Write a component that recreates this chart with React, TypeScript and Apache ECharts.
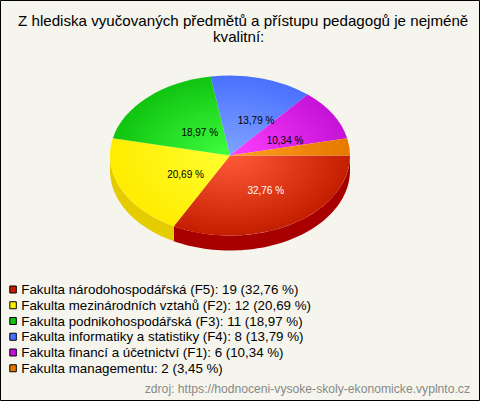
import React, { useEffect, useRef } from "react";
import * as echarts from "echarts";

const TITLE_LINES = ["Z hlediska vyučovaných předmětů a přístupu pedagogů je nejméně", "kvalitní:"];
const SOURCE = "zdroj: https://hodnoceni-vysoke-skoly-ekonomicke.vyplnto.cz";
const NAMES = [
  "Fakulta národohospodářská (F5)",
  "Fakulta mezinárodních vztahů (F2)",
  "Fakulta podnikohospodářská (F3)",
  "Fakulta informatiky a statistiky (F4)",
  "Fakulta financí a účetnictví (F1)",
  "Fakulta managementu",
];
const VALUES = [19, 12, 11, 8, 6, 2];
const PERCENTS = ["32,76 %", "20,69 %", "18,97 %", "13,79 %", "10,34 %", "3,45 %"];

// Styling tables
const SWATCH = ["#c41e00", "#ffec00", "#10c410", "#4a70ff", "#c412d8", "#e67800"];
const INNER = ["#ff5a38", "#ffff30", "#40ff40", "#80a4ff", "#ff40ff", "#ffa020"];
const WALL = ["#a80000", "#e4cc00", "#0a9a0a", "#3050c0", "#9a10a8", "#b86000"];
const LABEL_COLOR = ["#ffffff", "#000000", "#000000", "#000000", "#000000", "#000000"];
const LABEL_NUDGE = [[4.8, 0.3], [10, 2.5], [11, 6.4], [10, 3.2], [3.6, 5.2], null];

const CX = 230;
const CY = 155.5;
const RX = 120;
const RY = 80;
const DEPTH = 15;
const FONT = "'Liberation Sans', Arial, sans-serif";
const TOTAL = VALUES.reduce((a, b) => a + b, 0);

function wallPoints(a0: number, a1: number) {
  const from = Math.max(a0, 0);
  const to = Math.min(a1, Math.PI);
  if (to <= from) return null;
  const top: number[][] = [];
  const bottom: number[][] = [];
  const steps = 60;
  for (let i = 0; i <= steps; i++) {
    const t = from + ((to - from) * i) / steps;
    const x = RX * Math.cos(t);
    const y = RY * Math.sin(t);
    top.push([x, y]);
    bottom.unshift([x, y + DEPTH]);
  }
  return top.concat(bottom);
}

function sliceSeries(index: number) {
  const before = VALUES.slice(0, index).reduce((a, b) => a + b, 0);
  return {
    type: "custom",
    coordinateSystem: "none",
    name: `${NAMES[index]}: ${VALUES[index]} (${PERCENTS[index]})`,
    itemStyle: { color: SWATCH[index] },
    silent: true,
    data: [VALUES[index]],
    renderItem: (_p: unknown, api: any) => {
      const a0 = (before / TOTAL) * Math.PI * 2;
      const a1 = ((before + api.value(0)) / TOTAL) * Math.PI * 2;
      const children: any[] = [];
      const pts = wallPoints(a0, a1);
      if (pts) {
        children.push({
          type: "polygon",
          x: CX,
          y: CY,
          shape: { points: pts },
          style: { fill: WALL[index] },
        });
      }
      children.push({
        type: "group",
        x: CX,
        y: CY,
        scaleY: RY / RX,
        children: [
          {
            type: "sector",
            shape: { cx: 0, cy: 0, r0: 0, r: RX, startAngle: a0, endAngle: a1, clockwise: true },
            style: {
              fill: new echarts.graphic.RadialGradient(
                0,
                0,
                RX,
                [
                  { offset: 0, color: INNER[index] },
                  { offset: 1, color: SWATCH[index] },
                ],
                true,
              ),
            },
          },
        ],
      });
      const nudge = LABEL_NUDGE[index];
      if (nudge) {
        const mid = (a0 + a1) / 2;
        children.push({
          type: "text",
          z2: 10,
          x: CX + 0.5 * RX * Math.cos(mid) + nudge[0],
          y: CY + 0.5 * RY * Math.sin(mid) + nudge[1],
          style: {
            text: PERCENTS[index],
            fill: LABEL_COLOR[index],
            font: `10px ${FONT}`,
            align: "center",
            verticalAlign: "middle",
          },
        });
      }
      return { type: "group", children };
    },
  };
}

export default function App() {
  const ref = useRef<HTMLDivElement>(null);
  useEffect(() => {
    document.body.style.margin = "0";
    const chart = echarts.init(ref.current!, null, { renderer: "svg" });
    const titleStyle = { fontFamily: FONT, fontSize: 15.15, fontWeight: "normal", color: "#000", lineHeight: 16 };
    chart.setOption({
      animation: false,
      backgroundColor: "#f5f5ed",
      title: [
        { text: TITLE_LINES[0], left: 13, top: 7, textStyle: titleStyle },
        { text: TITLE_LINES[1], left: 208, top: 23, textStyle: titleStyle },
        {
          text: SOURCE,
          right: 5,
          top: 378,
          textStyle: { fontFamily: FONT, fontSize: 12.15, fontWeight: "normal", color: "#888888" },
        },
      ],
      legend: {
        orient: "vertical",
        left: 9.3,
        top: 283,
        padding: 0,
        itemWidth: 6.5,
        itemHeight: 7,
        itemGap: 2.75,
        icon: "rect",
        selectedMode: false,
        itemStyle: { borderColor: "#000", borderWidth: 1 },
        textStyle: { fontFamily: FONT, fontSize: 13.33, color: "#000", lineHeight: 13 },
        data: NAMES.map((n, i) => `${n}: ${VALUES[i]} (${PERCENTS[i]})`),
      },
      graphic: [
        {
          type: "rect",
          z: 100,
          shape: { x: 0.5, y: 0.5, width: 479, height: 400 },
          style: { fill: "none", stroke: "#000", lineWidth: 1 },
        },
      ],
      series: VALUES.map((_, i) => sliceSeries(i)),
    });
    return () => chart.dispose();
  }, []);
  return <div ref={ref} style={{ width: 480, height: 401 }} />;
}
